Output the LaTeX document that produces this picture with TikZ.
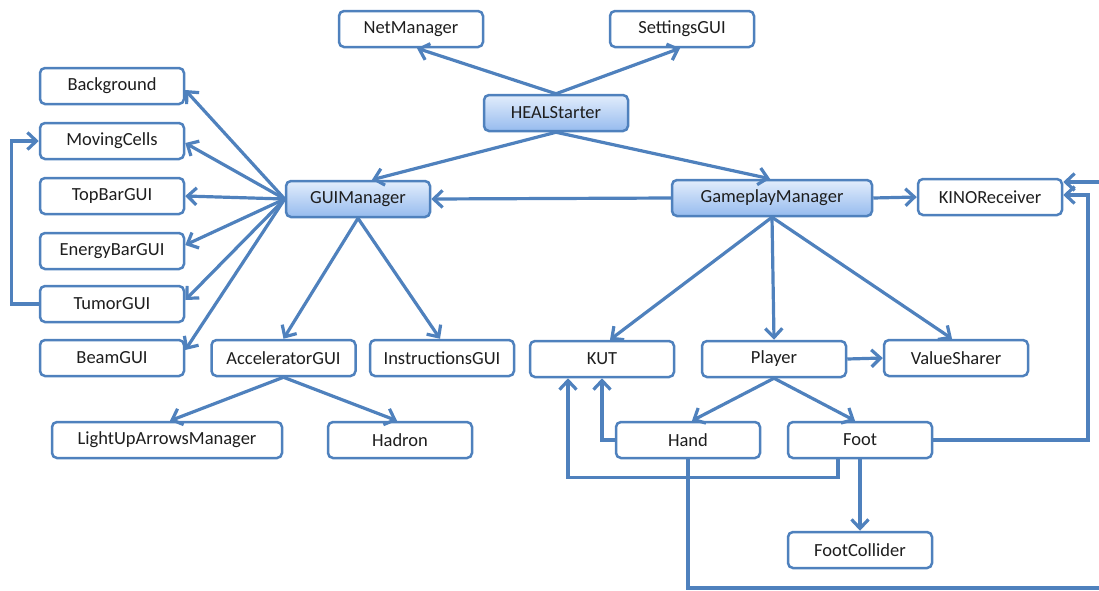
\documentclass[tikz,border=0pt]{standalone}
\usepackage{fontspec}
\setmainfont{Carlito}
\usetikzlibrary{arrows.meta}
\definecolor{lnblue}{RGB}{79,129,189}
\definecolor{txt}{RGB}{30,30,30}
\definecolor{gtop}{RGB}{226,237,252}
\definecolor{gbot}{RGB}{150,187,238}
\begin{document}
\begin{tikzpicture}[x=1pt,y=-1pt,
  box/.style={draw=lnblue, line width=2.5pt, rounded corners=5pt, minimum width=144pt,
    minimum height=36pt, fill=white, text=txt, font=\fontsize{18.5}{22}\selectfont, inner sep=0pt},
  gbox/.style={box, top color=gtop, bottom color=gbot},
  lnk/.style={draw=lnblue, line width=3.2pt},
  conn/.style={lnk, -{Straight Barb[length=9pt,width=17pt]}}]
\useasboundingbox (0,0) rectangle (1099,590);
% nodes
\node[box] (net) at (411,29) {NetManager};
\node[box] (set) at (682,29) {SettingsGUI};
\node[gbox] (heal) at (556,113) {HEALStarter};
\node[box] (bg) at (112,86) {Background};
\node[box] (mc) at (112,141) {MovingCells};
\node[box] (tb) at (112,196) {TopBarGUI};
\node[box] (eb) at (112,251) {EnergyBarGUI};
\node[box] (tu) at (112,304) {TumorGUI};
\node[box] (bm) at (112,358) {BeamGUI};
\node[gbox] (gui) at (358,199) {GUIManager};
\node[gbox, minimum width=200pt] (gm) at (772,198) {GameplayManager};
\node[box] (kino) at (990,197) {KINOReceiver};
\node[box] (acc) at (283.5,358) {AcceleratorGUI};
\node[box] (ins) at (442,358) {InstructionsGUI};
\node[box] (kut) at (602,359) {KUT};
\node[box] (pl) at (774,359) {Player};
\node[box] (vs) at (956,358) {ValueSharer};
\node[box, minimum width=230pt] (lua) at (167,440) {LightUpArrowsManager};
\node[box] (had) at (400,440) {Hadron};
\node[box] (hand) at (688,440) {Hand};
\node[box] (foot) at (860,440) {Foot};
\node[box] (fc) at (860,550) {FootCollider};
\coordinate (hout) at (1099,588);
\coordinate (kin) at (1099,182);
% connectors
\draw[conn] (heal.north) -- ([xshift=6pt]net.south);
\draw[conn] (heal.north) -- ([xshift=-2pt]set.south);
\draw[conn] (heal.south) -- ([xshift=14pt]gui.north);
\draw[conn] (heal.south) -- ([xshift=-2pt]gm.north);
\draw[conn] (gui.west) -- ([yshift=-4pt]bg.east);
\draw[conn] (gui.west) -- ([yshift=-2pt]mc.east);
\draw[conn] (gui.west) -- (tb.east);
\draw[conn] (gui.west) -- ([yshift=6pt]eb.east);
\draw[conn] (gui.west) -- ([yshift=4pt]tu.east);
\draw[conn] (gui.west) -- ([yshift=8pt]bm.east);
\draw[conn] (tu.west) -- ++(-27,0) |- (mc.west);
\draw[conn] (gm.west) -- (gui.east);
\draw[conn] (gm.east) -- (kino.west);
\draw[conn] (gui.south) -- (acc.north);
\draw[conn] (gui.south) -- ([xshift=-2pt]ins.north);
\draw[conn] (acc.south) -- ([xshift=3pt]lua.north);
\draw[conn] (acc.south) -- ([xshift=-3pt]had.north);
\draw[conn] (gm.south) -- ([xshift=8pt]kut.north);
\draw[conn] (gm.south) -- (pl.north);
\draw[conn] (gm.south) -- ([xshift=-4pt]vs.north);
\draw[conn] (pl.east) -- (vs.west);
\draw[conn] (pl.south) -- ([xshift=4pt]hand.north);
\draw[conn] (pl.south) -- ([xshift=-5pt]foot.north);
\draw[conn] (hand.west) -| (kut.south);
\draw[conn] ([xshift=-22pt]foot.south) -- ++(0,18) -| ([xshift=-34pt]kut.south);
\draw[conn] (foot.south) -- (fc.north);
\draw[conn] (foot.east) -| (1088,195) -- ([yshift=2pt]kino.east);
\draw[lnk] (hand.south) -- (688,588) -- (hout);
\draw[conn] (kin) -- ([yshift=15pt]kino.east);
\end{tikzpicture}
\end{document}
